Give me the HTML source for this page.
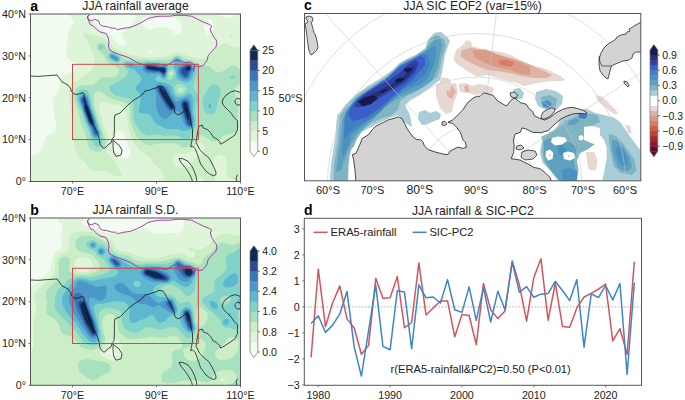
<!DOCTYPE html>
<html><head><meta charset="utf-8"><style>
html,body{margin:0;padding:0;background:#fff;overflow:hidden;width:685px;height:400px;}
svg{display:block;}
text{font-family:"Liberation Sans", sans-serif;}
</style></head><body>
<svg width="685" height="400" viewBox="0 0 685 400">
<rect width="685" height="400" fill="#fff"/>
<svg x="30.5" y="14.0" width="210.0" height="167.5" viewBox="0 0 210 167.5" preserveAspectRatio="none" overflow="hidden"><rect x="0" y="0" width="210" height="167.5" fill="#f2fbef"/>
<path fill="#dff5da" fill-rule="evenodd" d="M88.5,116.2 90.5,116.2 92.5,118.2 94.2,121.5 96.8,129.5 99.8,135.8 100.2,137.5 99.8,140.2 98.2,143.2 96.8,144.5 95.2,145.2 92.5,144.2 86.2,139.2 83.2,136.2 82.5,134.5 82.5,127.8 83.5,121.8 85.5,118.2ZM118.8,37.5 121.2,36.8 122.5,37.2 123.2,38.2 121.8,38.8 119.2,38.5ZM178.2,5.2 179.8,5.2 181.8,6.8 183.2,11.2 182.8,17.5 181.5,19.8 180.2,20.8 177.2,20.5 175.2,18.5 173.8,14.8 174.2,8.8 176.5,5.8ZM37.5,0.2 42.8,5.8 43.2,8.2 41.8,11.2 39.2,15.2 37.5,19.5 36.8,26.2 36.8,31.8 36.2,34.5 36.2,41.5 37.2,44.2 39.5,46.8 41.8,48.2 46.2,49.2 47.2,50.2 47.2,51.8 45.8,54.2 42.5,57.2 39.2,58.8 35.8,59.8 31.8,62.5 30.5,65.2 29.2,73.8 22.5,84.5 22.2,90.2 23.2,94.8 23.5,101.2 25.8,110.8 25.5,114.8 24.5,116.8 22.8,118.5 17.8,121.2 15.2,123.5 13.5,126.8 11.8,134.2 10.2,136.8 7.5,139.2 0.2,143.5 0.2,167.2 209.8,167.2 209.8,0.2 203.5,0.2 203.5,1.8 201.8,3.5 198.5,3.5 189.2,1.8 187.5,1.2 186.5,0.2 141.8,0.2 144.5,3.2 148.8,6.8 150.8,10.8 151.2,12.5 150.8,17.2 150.2,18.8 148.2,20.8 146.2,20.8 144.8,20.2 139.5,14.8 135.5,13.2 130.2,13.2 123.8,14.8 119.8,15.2 115.2,14.2 112.5,12.2 110.5,8.5 110.5,5.8 112.2,3.8 114.2,3.2 121.2,3.2 121.5,3.5 126.2,3.2 129.8,1.5 130.8,0.2 105.2,0.2 104.5,4.5 101.5,10.5 98.8,13.5 93.8,16.8 91.2,19.8 91.2,21.8 95.5,28.5 95.5,30.5 93.2,31.8 90.2,31.5 87.2,30.2 84.2,27.2 81.5,22.8 79.2,20.5 70.2,15.2 65.2,10.2 61.5,5.5 59.8,2.5 59.8,0.2Z"/>
<path fill="#cbeec6" fill-rule="evenodd" d="M173.2,130.8 174.2,133.2 174.2,136.5 173.5,138.2 170.8,140.8 165.5,143.5 163.5,145.5 161.2,150.2 158.8,152.5 155.5,153.8 152.8,154.2 148.5,153.8 145.8,152.8 142.8,150.2 141.8,148.2 141.5,144.8 142.5,142.5 143.8,141.2 147.2,139.8 155.5,139.8 158.5,139.2 161.2,137.2 164.5,132.2 167.8,129.2 170.5,128.8ZM200.5,20.8 199.5,21.5 199.2,23.5 200.2,24.8 201.2,24.8 202.2,23.8 202.5,22.5 201.8,21.2ZM52.8,20.8 53.2,22.2 56.8,26.5 62.2,38.8 64.2,45.2 64.2,50.2 62.2,54.2 57.8,58.8 50.8,63.8 43.8,67.8 41.2,70.5 39.8,73.2 38.8,76.8 38.8,84.2 39.8,88.8 41.8,106.5 41.8,111.5 42.2,111.8 41.8,124.2 45.8,138.8 47.5,141.8 54.2,148.2 59.2,155.2 62.5,156.8 75.2,157.2 78.5,158.5 84.2,161.8 86.5,162.5 89.8,162.2 91.2,160.8 91.2,158.8 85.2,148.2 82.8,145.5 77.5,140.8 76.8,139.5 76.5,137.2 78.2,130.2 78.2,124.8 76.5,119.2 74.8,115.8 72.5,109.2 71.5,104.5 69.8,100.2 68.5,93.8 69.2,89.8 70.8,88.2 73.2,87.8 82.5,90.5 90.2,91.5 92.2,92.2 94.8,94.5 95.5,95.5 96.5,99.5 96.5,103.5 97.5,111.5 100.5,122.2 102.8,127.2 109.8,136.5 112.2,138.8 117.8,141.8 120.5,144.8 122.8,149.5 131.2,156.5 132.5,158.8 133.2,161.2 133.2,164.2 132.2,167.2 162.5,167.2 166.8,162.8 169.5,162.8 170.8,163.5 172.8,165.8 173.2,167.2 184.8,167.2 184.5,162.5 182.5,155.5 182.2,148.8 183.8,144.2 185.8,142.2 188.8,140.8 190.8,140.8 192.5,141.5 194.2,142.8 195.5,145.2 196.2,148.2 195.8,158.2 197.2,161.8 199.5,164.2 203.2,166.2 203.8,167.2 209.8,167.2 209.8,31.8 205.8,33.5 203.2,33.5 200.8,32.5 196.8,29.8 194.2,29.8 190.5,30.8 185.5,33.8 178.5,42.2 175.2,44.2 171.5,45.2 166.5,44.8 147.5,38.5 144.2,38.8 138.2,41.5 131.8,43.2 124.5,43.5 124.2,43.8 116.2,43.8 98.8,40.8 86.5,35.5 82.8,33.5 75.5,25.5 71.2,23.2 57.5,19.5 54.5,19.5Z"/>
<path fill="#a8e1bf" fill-rule="evenodd" d="M151.8,162.8 151.8,163.5 152.5,163.8 153.8,163.8 154.5,163.2 153.8,162.5ZM148.8,73.5 150.8,73.5 152.2,74.8 152.2,76.5 150.8,77.8 149.2,77.8 147.8,76.5 147.8,74.5ZM140.5,57.5 141.8,57.8 142.5,58.8 142.5,60.2 141.2,61.5 139.8,61.5 138.8,60.5 139.2,58.5ZM43.5,78.5 43.2,81.2 44.2,86.8 47.5,96.5 50.5,108.8 55.2,121.2 57.8,131.8 60.2,135.2 63.5,137.2 68.5,137.5 70.2,136.8 73.2,134.2 74.5,131.8 75.2,129.5 74.8,124.8 69.2,110.2 67.8,104.8 64.8,96.2 63.5,90.2 63.5,86.8 63.2,86.5 63.5,81.8 64.5,79.2 66.2,77.5 67.2,77.2 69.8,77.5 72.5,78.8 77.2,82.5 82.5,85.5 94.2,88.2 95.5,88.8 98.2,91.5 99.5,95.5 99.5,101.2 100.2,107.5 102.8,115.5 105.8,121.8 107.5,124.2 114.5,130.2 117.2,131.2 120.2,131.2 127.5,129.5 143.8,129.2 147.2,130.5 151.5,133.2 155.5,133.5 159.2,131.5 166.2,122.8 168.5,121.2 171.8,121.5 182.2,127.5 185.2,127.8 187.5,126.8 193.2,121.8 197.2,120.5 204.2,119.2 206.5,117.2 207.2,115.5 206.8,101.8 207.8,97.2 207.8,89.5 206.8,85.2 204.2,79.2 204.2,75.5 205.2,73.5 209.2,69.5 209.8,69.5 209.8,56.2 206.2,52.5 204.2,51.5 201.8,51.5 199.8,52.2 191.8,57.5 189.8,58.2 186.8,58.2 183.8,56.8 180.5,53.8 177.8,52.2 169.8,50.5 161.8,46.5 152.8,44.2 150.5,42.5 147.5,41.2 144.5,41.5 139.8,44.8 136.5,45.8 119.2,46.2 118.8,45.8 95.2,45.2 93.2,44.5 90.5,41.2 83.5,37.2 77.8,35.8 76.2,34.2 74.8,31.2 73.2,29.5 70.2,28.5 67.5,29.5 66.2,31.5 66.2,33.8 66.8,35.5 68.2,37.2 71.5,39.2 72.8,40.5 75.8,46.2 78.8,49.5 81.2,51.2 84.8,52.5 87.5,54.2 88.2,55.5 88.2,57.8 87.2,60.2 84.8,62.5 82.5,63.5 77.8,63.5 75.2,62.8 72.2,63.2 69.2,64.8 63.8,69.8 60.8,71.2 53.2,71.2 49.8,71.8 45.5,74.5Z"/>
<path fill="#80d2cb" fill-rule="evenodd" d="M50.5,75.5 48.5,76.5 46.5,79.5 46.2,82.8 46.8,87.2 51.2,98.2 54.2,107.8 57.8,116.2 60.2,123.5 62.8,129.2 65.2,132.2 67.5,132.8 69.2,132.5 71.5,130.5 72.2,128.5 71.2,123.8 71.2,120.5 70.5,117.5 68.5,113.2 62.2,93.8 59.8,82.2 57.8,77.5 56.8,76.5 53.5,75.2ZM185.5,70.8 181.8,70.8 180.5,71.5 177.8,74.5 172.2,84.2 171.8,88.2 173.5,95.8 174.5,97.5 176.8,99.8 178.2,100.5 181.8,100.5 183.5,99.5 184.8,97.8 186.5,92.5 187.2,87.8 190.2,80.5 189.8,75.2 188.8,73.2 187.5,71.8ZM146.8,69.8 151.2,70.2 153.5,71.2 155.5,72.8 156.2,74.2 155.8,76.5 152.8,79.8 149.2,80.8 147.2,80.2 145.8,78.8 144.5,75.8 144.5,72.5 144.8,71.5ZM204.8,62.2 203.8,61.2 202.2,61.2 200.8,61.8 199.5,63.8 200.5,64.8 202.5,64.8 203.5,64.5 204.8,63.2ZM141.5,55.5 143.5,57.2 144.2,58.5 143.8,61.5 141.5,64.8 139.8,65.8 137.8,65.8 137.2,65.2 137.5,58.5 139.2,55.8ZM161.5,48.5 158.5,47.5 152.8,46.8 148.8,43.2 147.2,42.5 145.8,42.5 143.8,43.5 142.8,44.5 141.5,47.2 140.5,48.2 138.2,49.2 135.2,49.2 126.5,47.8 120.5,47.8 120.2,47.5 115.8,47.5 113.2,48.2 104.2,48.2 102.2,47.5 94.8,47.2 92.8,48.5 92.5,51.2 93.5,52.8 95.8,54.5 96.8,55.8 97.2,58.5 96.5,60.8 94.8,62.8 90.8,65.8 80.8,70.8 79.2,72.8 79.2,75.5 80.5,77.8 82.8,80.2 85.8,81.8 89.2,82.8 97.8,84.2 101.2,86.2 102.8,89.8 102.8,104.2 104.2,108.8 109.2,116.5 112.5,119.8 117.2,121.5 121.5,121.2 123.5,120.5 127.8,120.5 133.2,121.8 144.8,121.5 147.8,122.2 153.5,125.5 156.5,125.8 157.8,125.2 159.8,123.2 165.5,112.8 165.8,103.8 165.2,99.8 165.2,94.2 165.8,90.8 167.8,85.5 167.5,81.2 163.5,74.8 162.8,72.8 163.2,69.8 166.2,60.2 166.5,54.8 164.2,50.5ZM78.2,39.8 77.5,41.5 77.8,43.5 79.8,45.8 85.2,48.8 87.8,48.8 89.8,47.2 90.2,44.2 89.5,42.8 87.5,41.2 82.5,38.5 80.2,38.5ZM69.2,31.2 68.5,32.2 68.8,34.5 69.8,35.2 71.8,35.2 72.8,33.8 72.5,31.8 71.2,30.8Z"/>
<path fill="#5db7d0" fill-rule="evenodd" d="M179.2,89.8 178.5,90.2 177.8,92.2 178.8,93.8 179.8,93.8 180.5,92.8 180.5,90.8 180.2,90.2ZM51.2,78.8 49.2,80.5 48.2,83.8 48.2,85.8 49.5,90.2 50.8,92.8 55.8,107.5 59.5,115.5 61.2,121.2 63.2,123.8 64.8,124.8 66.8,125.2 68.5,123.8 69.2,122.5 69.5,118.5 67.2,112.8 64.8,104.8 60.8,93.8 58.5,84.2 57.2,81.5 55.2,79.5 52.5,78.5ZM95.8,74.2 95.5,73.8 94.5,74.2 95.2,74.5ZM94.2,49.5 94.2,50.8 95.5,52.2 100.2,54.5 103.8,55.5 105.5,57.8 108.8,60.8 110.8,64.5 109.8,68.2 105.5,72.8 104.8,74.2 105.2,75.2 108.8,79.5 110.2,82.5 110.2,86.5 108.2,95.5 108.5,98.2 109.5,99.5 116.2,99.2 118.5,100.2 121.2,102.8 123.8,107.8 126.5,110.5 135.5,114.8 137.2,115.2 147.2,114.8 151.8,116.5 155.2,116.8 159.8,115.5 162.8,113.2 163.8,110.8 163.8,106.8 162.5,97.2 162.8,84.2 161.5,81.2 159.8,79.8 157.5,79.8 151.5,82.8 147.2,83.2 145.8,82.5 143.2,79.5 141.5,73.8 139.5,70.8 132.8,68.5 126.8,67.5 125.5,66.2 125.2,65.2 125.8,63.2 127.2,61.8 128.2,61.5 131.8,64.8 133.5,65.2 135.2,64.2 135.8,63.2 136.2,60.2 137.8,54.8 137.5,53.2 136.2,51.8 134.2,50.8 121.5,48.8 115.5,48.8 111.8,50.5 108.2,51.5 105.2,51.5 103.5,49.8 101.5,48.8 95.5,48.5ZM144.8,44.2 143.5,46.8 143.8,51.2 143.2,52.8 145.2,56.8 146.2,64.5 147.5,65.8 154.5,68.5 158.5,68.2 160.8,65.8 162.2,63.2 163.8,55.8 163.8,54.2 162.8,51.5 161.2,49.8 158.8,48.8 155.2,48.8 154.8,49.2 151.2,48.8 150.2,47.8 149.2,45.2 147.5,43.8ZM79.2,40.8 78.8,42.2 79.5,43.8 82.8,46.2 85.5,47.5 87.2,47.5 88.8,46.2 88.5,43.5 84.2,40.5 81.2,39.5Z"/>
<path fill="#4a97c8" fill-rule="evenodd" d="M52.2,81.2 50.5,82.2 49.5,84.2 49.8,87.8 51.2,90.5 52.8,96.5 57.5,109.2 60.2,113.8 62.2,120.2 63.5,122.2 64.8,122.8 66.5,122.8 67.8,121.8 68.5,120.5 68.5,118.5 66.5,113.8 64.8,107.8 59.8,93.8 57.2,84.2 54.8,81.5ZM126.8,70.5 125.2,72.2 124.5,74.2 124.5,75.8 125.8,80.2 125.2,91.2 127.5,98.5 129.2,101.8 132.2,104.5 135.8,104.8 137.2,104.2 140.8,100.2 146.5,97.2 147.8,97.2 150.2,101.2 152.2,106.5 155.2,112.2 158.2,113.8 160.8,113.2 162.5,111.2 162.5,106.5 160.8,96.2 160.5,89.5 159.2,85.2 157.5,83.8 154.5,83.8 150.5,85.5 146.8,88.2 143.2,84.8 140.5,80.2 138.8,75.5 136.5,72.8 130.5,69.8 128.5,69.8ZM97.5,50.5 98.2,51.5 100.2,52.5 101.5,52.5 102.2,51.8 101.8,50.5 101.2,50.2 97.8,50.2ZM159.8,50.2 156.2,49.8 154.8,50.5 149.5,51.5 147.2,53.5 146.8,57.5 147.8,61.2 148.8,62.8 151.2,64.8 153.5,65.8 156.8,65.8 158.2,65.2 159.8,63.2 160.5,60.2 162.5,55.2 162.5,53.5 161.8,51.8ZM112.2,53.2 112.2,55.5 112.8,56.8 115.2,58.8 118.2,59.8 128.8,59.5 130.8,61.2 132.5,63.5 134.5,63.2 136.5,57.2 136.5,54.2 135.2,52.5 133.5,51.8 129.8,51.5 124.2,50.2 117.2,49.5 114.8,50.2 113.5,51.2ZM145.5,45.5 145.5,47.2 146.2,47.8 147.5,47.8 147.8,45.8 147.2,45.2ZM80.2,41.5 80.5,43.2 85.2,46.2 87.5,45.8 87.8,45.2 87.5,44.2 82.5,40.8 80.8,40.8Z"/>
<path fill="#3874ba" fill-rule="evenodd" d="M153.8,85.8 152.2,86.5 150.2,89.2 150.5,93.5 151.8,98.5 156.2,110.5 157.2,111.8 159.5,112.5 161.5,110.8 161.5,106.8 158.8,89.5 158.2,87.5 156.8,86.2ZM52.8,82.5 51.5,83.2 50.5,84.8 50.5,86.5 52.5,91.5 52.8,94.2 58.2,108.8 61.5,114.2 62.8,118.8 64.5,121.2 65.8,121.5 67.2,120.5 67.5,118.8 64.5,111.2 63.5,106.2 57.8,90.5 56.5,85.2 55.2,83.2ZM127.8,71.5 126.8,72.5 126.2,74.2 126.8,76.8 130.2,83.8 135.5,93.2 139.2,96.8 143.2,96.5 144.2,95.8 145.2,94.2 145.2,91.5 140.2,83.5 137.2,77.2 135.5,74.8 132.2,71.8 130.8,71.2ZM159.5,50.8 158.2,50.5 156.2,50.8 150.2,53.5 148.8,55.2 148.8,57.8 149.8,60.2 152.8,63.5 154.2,64.2 156.2,64.2 158.2,62.5 159.2,58.8 161.2,55.8 161.5,53.2 160.8,51.8ZM114.2,52.5 114.2,54.8 115.5,56.5 118.2,57.5 122.2,58.2 128.2,58.2 130.8,59.5 133.2,62.2 134.2,61.5 135.8,57.5 135.5,53.8 132.8,52.5 129.8,52.5 126.5,51.5 120.2,50.5 116.5,50.5 115.2,51.2Z"/>
<path fill="#2a4e93" fill-rule="evenodd" d="M153.5,87.2 152.2,88.2 151.5,89.5 151.8,92.8 155.5,105.2 157.8,110.5 159.2,111.2 160.5,109.8 160.5,107.5 157.8,90.2 157.2,88.5 156.2,87.5ZM52.8,83.8 51.8,84.8 51.5,86.2 53.2,90.2 53.5,94.2 58.2,107.2 59.5,109.8 62.8,113.2 63.8,115.5 64.5,118.8 65.5,119.5 65.8,118.2 63.5,113.2 62.8,106.5 58.2,92.8 56.8,90.5 55.2,84.8 53.8,83.8ZM128.5,72.5 127.5,73.8 127.8,75.8 130.2,80.8 135.2,89.2 139.2,94.8 140.2,95.5 142.8,95.2 143.8,93.8 143.8,91.8 138.2,82.5 136.5,78.8 134.5,75.8 130.5,72.2ZM159.2,51.5 156.8,51.5 151.8,54.5 150.8,55.8 150.8,57.5 151.8,59.5 154.5,62.2 155.8,62.2 156.8,61.2 157.5,58.5 160.5,55.2 160.5,52.8ZM115.2,52.8 115.8,55.2 117.2,55.8 123.8,57.2 128.2,57.2 130.5,58.2 132.8,60.2 133.5,60.2 134.5,59.2 135.5,56.5 135.2,54.5 132.8,53.2 128.5,53.2 126.8,52.5 118.8,51.2 117.2,51.2 115.8,51.8Z"/>
<path fill="#0f2a50" fill-rule="evenodd" d="M54.8,90.5 54.2,91.8 54.5,95.5 59.5,108.5 60.8,109.8 61.8,109.8 62.5,108.5 57.5,93.2 56.8,91.8 55.5,90.5ZM154.5,88.2 153.5,88.5 152.8,89.5 153.2,93.5 156.5,103.8 157.5,105.8 158.5,106.5 158.8,105.5 158.5,100.5 156.8,90.8 156.2,89.2ZM129.2,73.8 129.2,75.8 130.2,78.2 134.8,86.2 139.8,93.5 140.8,94.2 142.2,93.8 142.5,92.2 134.8,78.5 131.2,74.2ZM159.5,52.8 158.5,52.2 156.8,52.5 155.2,54.5 155.2,56.2 157.2,56.5 158.8,55.8 159.8,54.2ZM116.5,53.2 117.2,54.5 122.5,55.8 128.8,56.2 132.5,58.8 133.5,58.8 134.8,56.8 134.8,55.2 133.2,53.8 127.8,54.2 125.2,53.2 117.5,52.2Z"/>
<path fill="#0f2a50" fill-rule="evenodd" d="M55.5,92.5 54.8,93.5 55.2,95.2 59.8,107.5 60.8,108.5 61.2,106.5 56.5,93.2ZM130.8,55.2 130.8,56.2 131.8,57.5 132.5,57.8 133.8,57.5 134.2,56.8 133.8,54.8 132.2,54.5ZM158.2,53.8 157.5,54.2 157.8,54.5Z"/><polyline points="-0.5,62.0 7.5,62.4 26.5,61.0 29.5,65.0 31.5,68.0 37.5,71.0 40.5,75.0 40.5,77.0 42.5,79.0 44.5,80.4 48.5,80.0 52.5,78.4 53.5,80.0 53.9,85.0 55.5,92.0 57.5,98.0 60.5,106.0 63.5,112.0 66.5,118.0 68.5,124.0 69.5,130.0 71.5,133.0 73.5,134.4 75.5,133.0 78.5,130.0 80.5,129.0 81.5,125.0 83.5,123.0 83.9,116.0 83.9,104.0 84.5,101.0 89.5,99.0 93.5,95.0 98.5,90.0 103.5,86.0 108.5,83.0 112.5,80.0 114.5,77.0 119.5,76.0 121.5,75.0 125.5,74.0 128.5,72.4 132.5,73.0 134.5,76.0 136.5,80.0 139.5,85.0 141.5,89.0 143.5,94.0 144.5,99.0 147.5,101.0 151.5,99.0 155.5,95.0 157.5,96.0 159.5,101.0 160.2,106.8 162.0,115.8 162.0,123.0 161.1,128.4 160.2,132.9 162.0,132.0 164.7,134.7 166.5,139.2 168.3,144.6 170.1,150.0 172.8,153.6 175.5,157.2 179.1,159.9 182.7,161.7 185.4,160.8 185.4,158.1 183.6,153.6 180.9,148.2 178.2,143.7 173.7,140.1 169.2,135.6 165.5,128.4 166.5,122.0 168.3,112.2 171.9,111.3 172.8,114.0 177.3,115.8 180.0,118.5 182.7,123.0 186.3,124.8 189.0,127.5 189.9,130.2 193.5,128.4 198.9,124.8 204.3,121.2 207.0,115.8 207.0,106.8 203.7,103.7 200.7,99.2 197.0,95.5 193.2,91.7 191.7,88.7 192.5,85.0 195.5,81.2 200.0,78.2 204.5,76.7 209.0,78.2 210.5,79.0" fill="none" stroke="#111" stroke-width="0.75" stroke-linejoin="round"/>
<polyline points="82.5,126.0 84.5,128.0 88.5,131.0 91.5,136.0 90.5,141.0 85.5,142.4 83.1,138.0 82.5,132.0 82.5,126.0" fill="none" stroke="#111" stroke-width="0.75" stroke-linejoin="round"/>
<polyline points="148.5,144.6 152.1,144.6 157.5,147.3 161.1,151.8 163.8,157.2 165.6,162.6 166.5,168.0 162.0,168.0 161.1,164.4 158.4,159.0 154.8,153.6 150.3,148.2 148.5,144.6" fill="none" stroke="#111" stroke-width="0.75" stroke-linejoin="round"/>
<polyline points="204.5,86.5 206.7,84.2 209.7,85.0 210.5,88.0 209.7,91.0 206.7,91.0 204.5,89.0 204.5,86.5" fill="none" stroke="#111" stroke-width="0.75" stroke-linejoin="round"/>
<polyline points="207.0,160.8 205.5,164.0 206.5,168.0" fill="none" stroke="#111" stroke-width="0.75"/>
<polyline points="59.0,0.8 56.8,3.0 58.2,6.0 61.2,6.8 64.2,5.2 68.0,6.8 69.5,10.5 71.8,12.0 77.0,12.8 81.5,14.2 85.2,14.2 86.8,15.8 93.5,14.2 99.5,13.5 105.5,11.2 111.5,8.2 117.5,4.5 123.5,3.0 129.5,2.2 138.5,2.2 147.5,1.2 155.0,1.5 161.0,2.2 167.0,5.2 173.0,8.2 179.0,10.5 181.2,12.0 179.8,15.0 181.2,19.5 183.5,23.2 185.8,26.2 186.5,30.0 185.0,33.8 182.8,36.0 179.8,39.0 177.5,42.0 176.8,45.8 174.5,49.5 172.2,51.8 169.2,52.5 167.0,52.5 164.8,51.8 163.2,55.5 163.0,57.5 164.0,51.0 159.5,48.0 155.0,48.8 150.5,47.2 146.0,45.8 141.5,48.0 135.5,51.8 129.5,50.2 122.0,50.2 114.5,51.0 108.5,49.5 105.5,48.0 99.5,44.2 93.5,42.0 89.0,40.5 83.0,38.2 79.2,36.0 77.8,32.2 78.5,28.5 77.8,24.0 75.5,19.5 69.5,18.0 65.8,15.0 62.8,12.0 60.5,11.2 59.0,9.0 57.5,5.0 57.0,2.5 59.0,0.8" fill="none" stroke="#9b30a8" stroke-width="0.9" stroke-linejoin="round"/>
<rect x="42.0" y="50.3" width="125.8" height="75.3" fill="none" stroke="#d23a3a" stroke-width="0.9"/></svg><rect x="30.5" y="14.0" width="210.0" height="167.5" fill="none" stroke="#555" stroke-width="1"/><line x1="28.5" y1="14.0" x2="30.5" y2="14.0" stroke="#555" stroke-width="0.8"/><text x="26.0" y="17.8" font-size="10.7" text-anchor="end" font-weight="normal" fill="#222" >40°N</text><line x1="28.5" y1="55.9" x2="30.5" y2="55.9" stroke="#555" stroke-width="0.8"/><text x="26.0" y="59.7" font-size="10.7" text-anchor="end" font-weight="normal" fill="#222" >30°N</text><line x1="28.5" y1="97.8" x2="30.5" y2="97.8" stroke="#555" stroke-width="0.8"/><text x="26.0" y="101.5" font-size="10.7" text-anchor="end" font-weight="normal" fill="#222" >20°N</text><line x1="28.5" y1="139.6" x2="30.5" y2="139.6" stroke="#555" stroke-width="0.8"/><text x="26.0" y="143.4" font-size="10.7" text-anchor="end" font-weight="normal" fill="#222" >10°N</text><line x1="28.5" y1="181.5" x2="30.5" y2="181.5" stroke="#555" stroke-width="0.8"/><text x="26.0" y="185.3" font-size="10.7" text-anchor="end" font-weight="normal" fill="#222" >0°</text><line x1="72.5" y1="181.5" x2="72.5" y2="183.5" stroke="#555" stroke-width="0.8"/><text x="72.5" y="194.7" font-size="10.7" text-anchor="middle" font-weight="normal" fill="#222" >70°E</text><line x1="156.5" y1="181.5" x2="156.5" y2="183.5" stroke="#555" stroke-width="0.8"/><text x="156.5" y="194.7" font-size="10.7" text-anchor="middle" font-weight="normal" fill="#222" >90°E</text><line x1="240.5" y1="181.5" x2="240.5" y2="183.5" stroke="#555" stroke-width="0.8"/><text x="240.5" y="194.7" font-size="10.7" text-anchor="middle" font-weight="normal" fill="#222" >110°E</text><text x="135.5" y="10.2" font-size="12.2" text-anchor="middle" font-weight="normal" fill="#222" >JJA rainfall average</text><text x="30.2" y="10.5" font-size="14" text-anchor="start" font-weight="bold" fill="#000" >a</text><svg x="30.5" y="218.0" width="210.0" height="167.3" viewBox="0 0 210 167.5" preserveAspectRatio="none" overflow="hidden"><rect x="0" y="0" width="210" height="167.5" fill="#f2fbef"/>
<path fill="#dff5da" fill-rule="evenodd" d="M81.5,130.5 83.5,130.5 84.8,132.2 84.8,134.8 82.8,136.8 80.2,136.8 78.2,135.2 78.2,133.5 78.8,132.5ZM51.5,47.5 52.2,46.8 53.2,47.2 52.8,48.2 51.8,48.2ZM26.8,0.2 27.8,2.5 31.2,6.5 31.8,8.5 31.5,12.2 30.5,15.8 30.5,20.8 31.5,24.2 31.5,27.8 29.2,30.8 25.5,33.2 23.5,35.5 21.8,39.8 20.5,49.8 18.2,54.2 7.2,65.2 2.8,67.5 0.2,68.2 0.2,167.2 209.8,167.2 209.8,0.2 152.5,0.2 153.2,2.2 153.2,8.8 151.8,12.2 150.2,13.8 146.8,15.2 133.8,15.2 129.5,15.8 124.5,15.5 121.5,14.5 114.5,10.2 112.2,10.2 106.8,12.5 100.2,14.2 94.5,14.5 86.8,15.8 78.8,15.5 65.5,11.2 58.5,9.5 52.8,6.8 51.5,5.2 51.8,3.8 56.5,0.2Z"/>
<path fill="#cbeec6" fill-rule="evenodd" d="M194.8,161.2 194.8,161.8 192.8,163.5 190.8,163.8 189.8,163.2 189.8,161.8 191.2,160.5 193.5,160.2ZM82.8,121.2 85.2,121.5 87.5,122.8 89.8,125.2 91.5,129.8 91.5,133.8 90.5,138.5 89.5,140.5 87.5,142.5 85.8,143.2 81.8,142.8 74.5,140.2 70.8,138.2 69.5,136.5 69.5,134.8 70.2,133.5 77.5,126.2 81.2,121.8ZM43.8,44.5 44.8,42.2 47.2,39.8 49.2,39.2 54.2,39.2 56.5,39.8 58.8,41.2 61.2,43.5 62.2,45.5 62.5,47.5 61.8,49.8 58.5,52.8 55.8,53.8 50.5,54.2 47.2,53.5 44.2,51.2 43.5,49.8ZM40.5,16.5 39.2,18.5 38.5,20.8 38.8,28.8 38.2,31.2 36.2,33.2 28.8,36.5 25.8,40.2 24.8,43.5 24.2,53.2 22.8,56.8 20.5,59.8 11.8,68.2 7.8,71.2 4.5,74.5 3.8,75.8 3.5,79.5 5.5,86.8 5.8,92.5 2.8,103.5 3.5,126.2 2.2,131.5 0.8,134.2 0.2,134.5 0.2,167.2 209.8,167.2 209.8,17.8 204.8,17.8 197.2,15.5 194.5,15.2 191.5,15.5 187.5,17.5 177.8,27.5 173.2,30.2 168.8,31.5 165.2,31.5 162.2,29.8 159.5,29.5 158.2,30.5 158.2,31.8 160.2,32.8 161.8,32.8 163.5,33.5 164.5,34.5 164.8,35.8 164.2,38.2 161.8,39.8 157.8,39.2 154.5,36.8 152.2,35.8 144.2,35.5 137.8,36.5 131.8,38.8 127.8,39.8 118.2,40.2 109.2,38.8 99.8,34.8 93.5,33.8 88.8,32.5 84.8,29.2 81.8,24.2 80.2,22.5 72.2,18.2 63.8,14.8 57.2,13.5 48.8,13.2 44.2,14.2Z"/>
<path fill="#a8e1bf" fill-rule="evenodd" d="M47.2,147.2 47.5,150.8 49.2,154.2 50.8,155.8 57.5,160.5 61.5,162.5 64.8,162.2 70.8,158.2 77.5,154.8 79.8,152.5 80.5,150.8 80.5,149.5 79.5,147.5 78.2,146.2 75.2,144.5 70.5,143.2 65.8,142.8 58.8,141.5 54.2,141.5 50.5,142.5 48.2,144.5ZM172.5,122.5 174.2,124.5 174.8,126.2 174.8,129.8 173.8,133.2 171.2,138.5 168.5,141.2 164.5,142.8 160.8,143.2 156.5,141.8 153.8,138.5 152.8,135.2 152.5,132.5 152.8,131.2 153.5,130.5 157.2,129.5 159.8,128.2 166.5,121.8 167.8,121.2 170.2,121.2ZM206.2,120.5 207.5,122.2 208.2,124.8 207.8,130.8 206.5,134.5 202.8,138.8 199.2,140.8 195.5,141.8 189.2,141.8 187.5,141.2 185.5,139.5 184.5,137.2 185.2,133.5 187.8,130.5 190.8,128.5 194.2,125.2 197.8,120.5 200.2,119.5 204.2,119.5ZM168.2,89.2 169.5,89.2 172.8,91.2 176.2,94.5 177.2,96.8 177.2,100.5 175.5,104.5 172.5,108.2 169.8,109.5 168.2,108.8 166.8,107.2 165.5,102.5 165.8,92.8 166.8,90.2ZM29.8,40.5 28.5,42.8 27.8,46.2 28.5,51.8 28.2,59.5 26.2,62.8 18.5,69.5 15.8,73.2 15.2,75.2 15.2,77.5 16.8,83.8 15.8,89.2 15.8,94.5 16.5,95.8 18.8,98.2 23.5,100.8 26.8,104.2 28.5,107.2 29.8,112.2 30.8,114.2 32.5,115.8 41.5,119.2 45.2,122.5 48.5,127.2 50.5,128.8 53.8,130.5 58.5,131.8 62.8,131.8 66.8,130.5 69.2,129.2 73.2,125.5 74.5,122.5 74.5,118.5 72.5,112.8 71.8,108.8 72.2,101.5 72.8,99.5 74.5,97.5 77.8,96.2 80.2,96.2 83.2,97.2 85.5,99.5 86.2,100.8 87.2,105.2 87.5,111.2 89.2,114.8 92.8,118.2 97.2,120.8 100.2,121.5 104.2,121.5 111.8,120.5 119.5,118.8 123.5,118.8 129.8,119.8 135.2,119.8 141.2,117.8 145.5,117.8 148.8,120.2 151.5,125.5 151.8,129.8 150.8,130.8 145.8,131.8 143.2,133.2 141.8,134.5 141.2,135.8 141.8,147.2 139.8,150.2 133.2,154.2 131.5,156.5 130.8,158.8 130.8,161.5 131.5,163.2 132.8,164.5 135.8,165.5 141.8,165.5 151.2,163.2 161.2,162.2 166.5,162.5 173.2,164.5 177.2,164.5 179.5,163.5 180.5,162.5 183.5,157.2 186.2,154.5 188.2,153.5 192.2,152.5 199.2,152.5 203.2,153.8 205.2,155.8 205.8,157.2 205.8,161.2 203.5,164.2 197.5,167.2 209.8,167.2 209.8,23.8 203.5,26.8 200.2,26.8 193.2,24.5 190.5,24.8 188.5,25.8 185.8,28.2 183.2,31.8 179.8,35.2 177.2,36.8 173.8,40.2 171.2,45.8 170.2,46.8 167.8,46.8 165.2,45.5 156.2,42.8 148.8,39.5 144.8,39.5 135.2,42.5 128.2,43.5 110.2,43.5 106.8,42.8 97.2,37.8 88.8,36.2 84.2,34.2 81.2,31.2 79.2,27.8 75.8,24.5 69.5,21.2 64.8,19.2 61.2,18.2 53.5,17.8 49.5,18.8 46.2,21.2 44.8,24.8 45.5,29.5 46.2,30.8 48.2,32.8 50.5,33.8 59.2,35.8 62.5,37.8 65.8,41.2 69.8,47.5 69.8,50.2 67.8,52.5 63.5,54.8 57.8,56.5 53.5,56.8 53.2,56.5 45.8,56.5 42.2,55.8 39.5,53.8 38.5,51.2 39.2,45.5 39.2,42.5 38.5,40.5 37.2,39.2 36.2,38.8 32.5,38.8Z"/>
<path fill="#80d2cb" fill-rule="evenodd" d="M200.2,79.5 200.5,80.5 200.2,82.8 196.8,86.2 194.5,86.8 192.5,86.8 191.5,86.5 189.5,84.2 189.2,81.2 190.8,79.2 192.2,78.5 197.2,77.8 199.2,78.5ZM209.8,29.2 204.8,33.8 199.2,35.8 196.2,37.8 195.2,40.2 195.2,43.2 196.2,47.8 195.8,51.2 194.8,52.8 191.8,55.8 185.2,60.8 184.2,62.8 183.8,73.2 182.2,75.2 173.8,78.5 171.8,81.2 171.8,83.8 172.8,85.8 177.8,90.8 189.5,100.8 190.5,105.8 192.8,108.8 196.2,109.8 198.5,109.8 202.5,111.5 205.2,111.5 206.5,110.8 207.5,109.5 208.2,106.8 207.5,96.2 208.5,93.2 209.8,92.2ZM25.2,75.8 24.5,80.5 24.5,90.2 25.5,92.8 45.8,114.2 52.2,122.8 54.5,125.2 59.2,127.5 63.8,127.8 66.2,127.2 68.2,126.2 70.2,124.2 70.8,122.8 71.2,118.5 69.2,108.8 68.5,102.2 68.5,94.5 70.5,91.8 73.8,90.5 76.8,90.2 82.8,90.5 88.2,92.2 90.2,94.2 90.8,95.5 91.8,105.2 93.5,109.5 96.8,112.8 101.5,114.8 107.5,114.5 110.2,113.2 113.2,110.8 116.2,109.5 119.8,109.5 124.2,110.8 129.8,111.5 134.8,110.8 140.5,108.8 143.5,108.8 145.2,109.5 148.5,112.2 155.5,119.5 157.2,120.5 158.5,120.5 160.2,119.5 163.8,115.8 165.5,112.5 165.5,109.5 164.2,105.2 163.5,100.8 162.8,91.5 160.2,85.8 157.5,83.8 155.2,83.8 151.2,85.5 149.2,85.5 147.5,84.2 145.5,81.2 143.5,79.2 139.2,76.8 133.2,75.2 130.8,73.8 130.2,72.8 130.2,70.8 132.2,68.5 139.2,66.5 141.5,66.5 143.8,67.5 148.8,70.8 154.5,76.5 156.8,78.2 158.8,78.2 160.2,77.5 162.8,74.8 164.2,71.8 165.2,64.2 166.8,58.2 167.2,54.2 165.8,50.2 162.5,47.2 155.2,44.5 148.8,41.2 145.2,41.5 139.8,44.8 135.8,45.8 117.2,45.8 111.2,46.5 106.5,46.2 102.2,44.5 95.5,40.5 89.2,39.2 83.5,36.5 79.8,35.5 78.2,33.8 77.2,31.5 75.2,28.8 72.8,27.2 68.8,25.8 64.2,22.5 62.8,22.2 59.5,22.5 55.8,24.8 55.5,27.2 56.2,28.5 59.2,31.2 63.5,32.8 67.5,37.8 72.5,40.8 75.2,43.5 79.5,50.2 79.2,52.5 76.8,54.5 73.8,55.8 63.2,58.8 55.2,59.2 51.5,58.5 47.8,58.5 40.8,60.2 36.8,62.5 33.5,66.5 26.8,72.8Z"/>
<path fill="#5db7d0" fill-rule="evenodd" d="M196.5,100.8 194.5,101.2 193.2,102.2 192.5,103.5 192.5,105.5 193.2,106.5 194.5,107.2 195.8,107.2 197.2,106.5 198.2,105.2 198.5,103.8 198.2,102.2ZM197.5,95.2 197.8,96.8 199.8,97.8 200.5,97.2 200.5,95.5 199.2,94.5ZM155.2,89.2 152.5,90.5 150.2,93.8 149.5,98.5 149.8,103.2 151.5,107.5 154.8,112.2 156.5,113.8 158.8,114.8 160.2,114.8 162.5,113.8 163.5,112.8 164.2,111.2 164.2,109.2 162.5,102.2 161.8,95.5 160.5,91.5 158.8,89.8 157.5,89.2ZM179.2,83.2 178.5,84.5 180.5,88.8 182.8,90.8 183.8,91.2 186.2,90.8 187.2,89.5 187.2,87.2 186.5,85.8 183.5,83.5 181.2,82.8ZM209.8,78.2 208.8,78.8 207.5,81.8 207.5,85.2 209.2,86.8 209.8,86.8ZM104.8,62.8 108.5,63.2 110.2,65.2 109.8,67.2 107.5,69.2 104.8,68.8 102.8,66.5 102.8,64.5ZM206.2,55.8 204.8,55.2 202.8,55.5 199.5,57.2 196.8,59.2 194.2,61.8 192.5,65.2 192.8,68.2 194.5,69.5 199.2,69.5 203.5,68.2 205.5,66.8 207.2,64.5 207.8,61.5 207.5,58.5ZM163.8,50.2 161.8,48.5 153.8,45.5 151.2,43.5 148.2,42.2 145.8,42.5 143.8,44.2 142.5,46.8 140.5,48.8 138.5,49.5 135.5,49.5 131.2,48.5 122.8,48.2 122.5,47.8 115.2,47.8 109.5,49.5 104.2,49.5 99.8,47.8 83.8,38.2 82.2,37.8 80.2,38.2 78.2,39.8 77.8,40.8 78.2,43.5 81.8,48.2 84.8,51.2 87.5,52.8 87.8,54.5 87.2,55.8 84.8,57.8 81.5,59.2 72.5,60.5 65.5,62.5 60.2,62.5 51.5,60.5 48.2,60.5 44.8,61.8 41.8,64.5 35.5,72.5 33.2,76.2 31.5,80.5 31.8,87.2 36.2,94.8 43.8,103.5 55.5,120.2 58.5,123.2 60.2,124.2 64.5,124.5 66.2,123.8 67.5,122.5 68.5,120.2 68.5,113.5 66.5,103.2 63.2,91.8 63.2,89.5 63.8,87.8 64.8,86.8 67.8,86.2 71.2,86.2 79.8,83.8 82.8,83.8 86.2,83.2 93.2,83.5 95.2,84.5 97.5,86.8 99.2,91.5 98.8,101.8 99.2,103.2 100.8,104.8 103.2,105.2 105.2,104.5 108.2,102.8 114.2,100.8 120.5,97.2 122.8,97.8 124.2,99.2 125.8,102.8 127.2,104.2 128.8,104.8 130.8,104.8 132.8,104.2 134.8,102.8 138.8,98.5 143.2,97.2 145.5,95.8 147.2,93.2 146.8,90.5 143.5,82.5 141.8,80.8 138.8,79.5 129.2,78.8 126.2,77.8 124.2,76.2 122.5,73.5 122.5,71.5 123.2,70.2 124.8,68.5 128.8,66.2 132.5,65.5 136.5,65.5 139.2,64.5 142.2,62.5 144.5,63.2 147.5,65.5 152.8,68.5 154.8,69.2 157.5,69.2 160.5,66.2 164.8,57.5 165.2,52.8ZM68.2,30.2 66.8,32.5 67.5,35.2 69.2,36.8 70.2,37.2 72.2,37.2 73.5,36.5 74.5,35.2 74.5,32.5 73.5,30.8 70.5,29.5ZM60.5,24.5 59.2,26.5 59.8,28.8 61.8,30.2 64.8,29.8 65.8,28.8 65.8,26.5 65.2,25.2 63.8,24.2Z"/>
<path fill="#4a97c8" fill-rule="evenodd" d="M155.5,90.8 154.2,91.5 152.2,94.2 152.2,98.5 153.2,103.2 156.8,111.5 158.8,113.2 161.2,113.2 162.5,112.2 163.2,110.8 163.2,108.8 162.2,105.5 160.5,94.5 159.8,92.8 158.5,91.5 157.2,90.8ZM84.5,67.5 84.2,68.5 84.5,70.8 86.8,73.5 92.5,76.2 97.8,77.5 100.8,78.8 107.2,84.8 108.8,85.8 110.2,86.2 114.5,85.8 121.5,89.2 124.2,89.2 128.2,86.8 140.5,95.2 142.8,95.2 144.2,94.5 145.2,93.2 145.2,90.5 142.5,83.5 140.2,81.5 139.2,81.2 135.8,81.5 128.8,85.2 127.2,85.2 119.5,78.2 113.5,76.2 106.8,76.2 104.8,75.8 101.8,74.5 94.2,66.8 91.5,65.2 88.5,64.8 86.2,65.8ZM48.8,62.8 46.5,64.2 44.2,69.5 40.2,74.2 38.5,77.8 38.2,80.2 38.5,82.8 41.8,92.8 46.8,100.5 49.8,106.2 57.8,117.8 60.2,120.2 63.5,121.2 65.2,120.5 67.2,117.5 67.2,113.2 65.2,104.8 59.8,90.5 58.5,83.8 58.5,81.2 59.5,79.8 62.2,79.8 68.2,82.5 71.2,82.5 73.2,81.5 74.8,79.5 75.5,77.5 76.5,69.5 75.2,67.8 73.8,67.5 69.5,68.8 65.2,68.8 54.2,63.5 51.5,62.8ZM109.8,53.8 110.2,56.2 112.5,58.8 118.5,62.5 122.8,64.2 135.8,64.5 138.2,63.5 139.2,62.5 140.2,60.2 139.5,57.5 137.5,55.5 132.5,52.2 128.2,50.5 118.8,49.2 115.5,49.2 111.8,50.8ZM146.2,43.5 144.5,45.8 144.2,51.5 144.8,55.2 146.5,58.8 148.8,61.5 152.5,63.5 155.5,63.8 158.5,62.5 162.5,58.8 163.8,56.5 164.2,53.5 163.2,51.2 161.5,49.5 159.5,48.5 152.8,46.5 148.5,43.2ZM80.5,39.5 79.5,40.8 79.5,43.2 84.8,49.2 86.5,49.8 88.2,49.8 90.5,48.2 90.8,45.5 90.5,44.5 88.8,42.8 83.5,39.2ZM69.8,31.2 68.5,32.5 68.5,34.5 69.5,35.5 71.2,35.8 72.5,35.2 72.8,32.5 71.2,31.2ZM61.5,25.5 60.8,26.2 60.8,27.8 62.2,28.8 63.8,28.5 64.2,26.2 63.5,25.5Z"/>
<path fill="#3874ba" fill-rule="evenodd" d="M155.2,92.2 154.2,92.8 153.2,95.2 154.2,101.2 157.5,110.2 158.8,111.8 160.5,112.2 162.2,110.8 162.2,108.5 159.5,94.5 158.2,92.5ZM137.2,82.8 135.5,84.8 135.5,86.2 136.5,88.2 140.8,93.5 141.8,93.8 143.2,93.5 143.8,92.5 143.8,90.5 141.2,83.5 139.5,82.5ZM46.2,75.2 44.8,75.8 43.5,77.5 43.2,81.2 46.8,92.8 53.5,106.8 58.5,115.2 60.8,118.2 63.8,118.8 66.2,116.5 66.2,113.5 63.5,103.5 59.5,94.2 56.8,85.5 54.8,82.2 52.5,79.8 51.2,76.5 50.2,75.5 48.8,74.8ZM112.2,53.2 112.2,55.2 114.2,57.8 123.8,62.2 135.5,63.5 137.2,62.8 138.5,60.8 138.2,58.8 136.8,57.5 131.5,54.2 126.2,51.8 117.8,50.2 115.8,50.2 114.2,50.8ZM146.2,44.8 145.8,45.5 146.2,48.8 149.8,55.8 152.5,58.8 156.8,60.2 158.8,59.8 160.8,58.8 162.2,57.5 163.2,55.5 163.2,53.2 161.5,50.5 158.5,49.2 153.2,48.2 151.8,47.5 148.5,44.2 147.2,44.2ZM81.2,40.5 80.5,41.5 80.5,42.5 81.2,43.8 84.8,47.8 86.2,48.5 87.5,48.5 89.2,47.2 89.2,45.2 87.5,43.2 83.2,40.2ZM70.2,32.8 69.8,33.8 71.2,34.2 71.2,33.2Z"/>
<path fill="#2a4e93" fill-rule="evenodd" d="M155.5,93.2 154.5,94.2 154.2,95.5 155.2,100.5 158.8,109.8 160.2,110.8 160.8,110.5 161.2,108.8 159.2,96.5 157.8,93.5ZM138.5,83.8 137.5,84.8 137.5,85.8 139.2,88.8 141.5,90.8 141.8,89.2 140.8,85.5 139.8,84.2ZM49.5,83.2 48.2,84.8 47.8,86.5 48.2,88.5 54.8,105.8 61.2,116.5 62.2,117.2 64.2,117.2 65.2,115.8 65.2,113.5 62.8,104.5 55.5,85.8 54.5,84.2 52.2,82.8ZM113.5,53.2 113.5,55.2 114.8,56.8 122.8,60.5 126.5,61.5 131.8,62.2 135.8,62.2 136.8,61.5 137.2,60.5 136.2,58.8 130.5,55.2 126.2,53.2 117.8,51.2 115.8,51.2 114.5,51.8ZM151.5,50.5 151.2,51.2 151.5,52.8 153.2,55.8 154.8,57.5 157.2,58.5 158.8,58.5 160.5,57.8 161.8,56.5 162.5,55.2 162.5,53.2 161.2,51.2 157.8,49.8 153.2,49.8ZM147.5,45.8 147.8,47.5 148.8,47.5 148.8,46.2ZM82.5,41.5 82.2,42.8 85.5,46.8 87.5,47.2 87.8,45.2 84.2,42.2Z"/>
<path fill="#0f2a50" fill-rule="evenodd" d="M155.8,94.5 155.5,96.8 156.2,99.8 157.8,103.8 158.8,104.8 158.8,100.2 158.2,96.8 157.2,94.5ZM51.5,84.5 49.8,85.8 49.8,88.2 51.2,91.5 51.8,95.5 55.8,105.5 58.2,108.5 61.5,114.5 62.5,115.5 63.5,115.5 63.8,112.8 60.8,101.2 54.2,85.8 53.2,84.8ZM114.8,53.2 114.8,55.2 115.8,56.2 121.5,58.8 125.5,60.2 129.5,60.8 133.5,60.8 134.5,60.2 131.8,57.5 126.5,54.5 117.8,52.2 116.2,52.2ZM154.5,51.8 154.2,54.2 156.2,56.8 157.5,57.5 159.2,57.5 161.5,55.8 161.8,53.5 160.5,51.5 158.8,50.8 156.2,50.8Z"/>
<path fill="#0f2a50" fill-rule="evenodd" d="M51.8,86.5 51.5,88.2 52.2,89.5 52.2,93.2 54.8,100.8 56.8,105.5 60.8,109.2 61.2,108.8 60.8,103.2 56.2,92.2 54.2,89.5 52.8,86.5ZM116.5,53.8 117.2,55.2 122.2,57.8 126.5,59.2 129.8,58.8 129.8,58.2 128.8,57.2 125.8,55.5 119.8,53.8ZM156.2,52.2 155.5,53.8 156.5,55.8 157.5,56.5 159.5,56.5 160.8,55.5 161.2,53.5 160.2,52.2 158.5,51.5Z"/><polyline points="-0.5,62.0 7.5,62.4 26.5,61.0 29.5,65.0 31.5,68.0 37.5,71.0 40.5,75.0 40.5,77.0 42.5,79.0 44.5,80.4 48.5,80.0 52.5,78.4 53.5,80.0 53.9,85.0 55.5,92.0 57.5,98.0 60.5,106.0 63.5,112.0 66.5,118.0 68.5,124.0 69.5,130.0 71.5,133.0 73.5,134.4 75.5,133.0 78.5,130.0 80.5,129.0 81.5,125.0 83.5,123.0 83.9,116.0 83.9,104.0 84.5,101.0 89.5,99.0 93.5,95.0 98.5,90.0 103.5,86.0 108.5,83.0 112.5,80.0 114.5,77.0 119.5,76.0 121.5,75.0 125.5,74.0 128.5,72.4 132.5,73.0 134.5,76.0 136.5,80.0 139.5,85.0 141.5,89.0 143.5,94.0 144.5,99.0 147.5,101.0 151.5,99.0 155.5,95.0 157.5,96.0 159.5,101.0 160.2,106.8 162.0,115.8 162.0,123.0 161.1,128.4 160.2,132.9 162.0,132.0 164.7,134.7 166.5,139.2 168.3,144.6 170.1,150.0 172.8,153.6 175.5,157.2 179.1,159.9 182.7,161.7 185.4,160.8 185.4,158.1 183.6,153.6 180.9,148.2 178.2,143.7 173.7,140.1 169.2,135.6 165.5,128.4 166.5,122.0 168.3,112.2 171.9,111.3 172.8,114.0 177.3,115.8 180.0,118.5 182.7,123.0 186.3,124.8 189.0,127.5 189.9,130.2 193.5,128.4 198.9,124.8 204.3,121.2 207.0,115.8 207.0,106.8 203.7,103.7 200.7,99.2 197.0,95.5 193.2,91.7 191.7,88.7 192.5,85.0 195.5,81.2 200.0,78.2 204.5,76.7 209.0,78.2 210.5,79.0" fill="none" stroke="#111" stroke-width="0.75" stroke-linejoin="round"/>
<polyline points="82.5,126.0 84.5,128.0 88.5,131.0 91.5,136.0 90.5,141.0 85.5,142.4 83.1,138.0 82.5,132.0 82.5,126.0" fill="none" stroke="#111" stroke-width="0.75" stroke-linejoin="round"/>
<polyline points="148.5,144.6 152.1,144.6 157.5,147.3 161.1,151.8 163.8,157.2 165.6,162.6 166.5,168.0 162.0,168.0 161.1,164.4 158.4,159.0 154.8,153.6 150.3,148.2 148.5,144.6" fill="none" stroke="#111" stroke-width="0.75" stroke-linejoin="round"/>
<polyline points="204.5,86.5 206.7,84.2 209.7,85.0 210.5,88.0 209.7,91.0 206.7,91.0 204.5,89.0 204.5,86.5" fill="none" stroke="#111" stroke-width="0.75" stroke-linejoin="round"/>
<polyline points="207.0,160.8 205.5,164.0 206.5,168.0" fill="none" stroke="#111" stroke-width="0.75"/>
<polyline points="59.0,0.8 56.8,3.0 58.2,6.0 61.2,6.8 64.2,5.2 68.0,6.8 69.5,10.5 71.8,12.0 77.0,12.8 81.5,14.2 85.2,14.2 86.8,15.8 93.5,14.2 99.5,13.5 105.5,11.2 111.5,8.2 117.5,4.5 123.5,3.0 129.5,2.2 138.5,2.2 147.5,1.2 155.0,1.5 161.0,2.2 167.0,5.2 173.0,8.2 179.0,10.5 181.2,12.0 179.8,15.0 181.2,19.5 183.5,23.2 185.8,26.2 186.5,30.0 185.0,33.8 182.8,36.0 179.8,39.0 177.5,42.0 176.8,45.8 174.5,49.5 172.2,51.8 169.2,52.5 167.0,52.5 164.8,51.8 163.2,55.5 163.0,57.5 164.0,51.0 159.5,48.0 155.0,48.8 150.5,47.2 146.0,45.8 141.5,48.0 135.5,51.8 129.5,50.2 122.0,50.2 114.5,51.0 108.5,49.5 105.5,48.0 99.5,44.2 93.5,42.0 89.0,40.5 83.0,38.2 79.2,36.0 77.8,32.2 78.5,28.5 77.8,24.0 75.5,19.5 69.5,18.0 65.8,15.0 62.8,12.0 60.5,11.2 59.0,9.0 57.5,5.0 57.0,2.5 59.0,0.8" fill="none" stroke="#9b30a8" stroke-width="0.9" stroke-linejoin="round"/>
<rect x="42.0" y="50.3" width="125.8" height="75.3" fill="none" stroke="#d23a3a" stroke-width="0.9"/></svg><rect x="30.5" y="218.0" width="210.0" height="167.3" fill="none" stroke="#555" stroke-width="1"/><line x1="28.5" y1="218.0" x2="30.5" y2="218.0" stroke="#555" stroke-width="0.8"/><text x="26.0" y="221.8" font-size="10.7" text-anchor="end" font-weight="normal" fill="#222" >40°N</text><line x1="28.5" y1="259.8" x2="30.5" y2="259.8" stroke="#555" stroke-width="0.8"/><text x="26.0" y="263.6" font-size="10.7" text-anchor="end" font-weight="normal" fill="#222" >30°N</text><line x1="28.5" y1="301.6" x2="30.5" y2="301.6" stroke="#555" stroke-width="0.8"/><text x="26.0" y="305.4" font-size="10.7" text-anchor="end" font-weight="normal" fill="#222" >20°N</text><line x1="28.5" y1="343.5" x2="30.5" y2="343.5" stroke="#555" stroke-width="0.8"/><text x="26.0" y="347.3" font-size="10.7" text-anchor="end" font-weight="normal" fill="#222" >10°N</text><line x1="28.5" y1="385.3" x2="30.5" y2="385.3" stroke="#555" stroke-width="0.8"/><text x="26.0" y="389.1" font-size="10.7" text-anchor="end" font-weight="normal" fill="#222" >0°</text><line x1="72.5" y1="385.3" x2="72.5" y2="387.3" stroke="#555" stroke-width="0.8"/><text x="72.5" y="398.5" font-size="10.7" text-anchor="middle" font-weight="normal" fill="#222" >70°E</text><line x1="156.5" y1="385.3" x2="156.5" y2="387.3" stroke="#555" stroke-width="0.8"/><text x="156.5" y="398.5" font-size="10.7" text-anchor="middle" font-weight="normal" fill="#222" >90°E</text><line x1="240.5" y1="385.3" x2="240.5" y2="387.3" stroke="#555" stroke-width="0.8"/><text x="240.5" y="398.5" font-size="10.7" text-anchor="middle" font-weight="normal" fill="#222" >110°E</text><text x="135.5" y="214.2" font-size="12.2" text-anchor="middle" font-weight="normal" fill="#222" >JJA rainfall S.D.</text><text x="30.2" y="214.5" font-size="14" text-anchor="start" font-weight="bold" fill="#000" >b</text><rect x="250" y="141.20" width="7.8" height="10.40" fill="#f2fbef"/><rect x="250" y="131.10" width="7.8" height="10.40" fill="#dff5da"/><rect x="250" y="121.00" width="7.8" height="10.40" fill="#cbeec6"/><rect x="250" y="110.90" width="7.8" height="10.40" fill="#a8e1bf"/><rect x="250" y="100.80" width="7.8" height="10.40" fill="#80d2cb"/><rect x="250" y="90.70" width="7.8" height="10.40" fill="#5db7d0"/><rect x="250" y="80.60" width="7.8" height="10.40" fill="#4a97c8"/><rect x="250" y="70.50" width="7.8" height="10.40" fill="#3874ba"/><rect x="250" y="60.40" width="7.8" height="10.40" fill="#2a4e93"/><rect x="250" y="50.30" width="7.8" height="10.40" fill="#0f2a50"/><polygon points="250,50.3 253.9,44.8 257.8,50.3" fill="#0f2a50"/><polygon points="250,151.3 253.9,156.6 257.8,151.3" fill="#f7fdf5"/><polygon points="250,50.3 253.9,44.8 257.8,50.3 257.8,151.3 253.9,156.6 250,151.3" fill="none" stroke="#777" stroke-width="0.7"/><line x1="257.8" y1="151.3" x2="259.8" y2="151.3" stroke="#444" stroke-width="0.8"/><text x="262.3" y="155.1" font-size="10.5" text-anchor="start" font-weight="normal" fill="#222" >0</text><line x1="257.8" y1="131.1" x2="259.8" y2="131.1" stroke="#444" stroke-width="0.8"/><text x="262.3" y="134.9" font-size="10.5" text-anchor="start" font-weight="normal" fill="#222" >5</text><line x1="257.8" y1="110.9" x2="259.8" y2="110.9" stroke="#444" stroke-width="0.8"/><text x="262.3" y="114.7" font-size="10.5" text-anchor="start" font-weight="normal" fill="#222" >10</text><line x1="257.8" y1="90.7" x2="259.8" y2="90.7" stroke="#444" stroke-width="0.8"/><text x="262.3" y="94.5" font-size="10.5" text-anchor="start" font-weight="normal" fill="#222" >15</text><line x1="257.8" y1="70.5" x2="259.8" y2="70.5" stroke="#444" stroke-width="0.8"/><text x="262.3" y="74.3" font-size="10.5" text-anchor="start" font-weight="normal" fill="#222" >20</text><line x1="257.8" y1="50.3" x2="259.8" y2="50.3" stroke="#444" stroke-width="0.8"/><text x="262.3" y="54.1" font-size="10.5" text-anchor="start" font-weight="normal" fill="#222" >25</text><rect x="250" y="341.90" width="7.8" height="10.40" fill="#f2fbef"/><rect x="250" y="331.80" width="7.8" height="10.40" fill="#dff5da"/><rect x="250" y="321.70" width="7.8" height="10.40" fill="#cbeec6"/><rect x="250" y="311.60" width="7.8" height="10.40" fill="#a8e1bf"/><rect x="250" y="301.50" width="7.8" height="10.40" fill="#80d2cb"/><rect x="250" y="291.40" width="7.8" height="10.40" fill="#5db7d0"/><rect x="250" y="281.30" width="7.8" height="10.40" fill="#4a97c8"/><rect x="250" y="271.20" width="7.8" height="10.40" fill="#3874ba"/><rect x="250" y="261.10" width="7.8" height="10.40" fill="#2a4e93"/><rect x="250" y="251.00" width="7.8" height="10.40" fill="#0f2a50"/><polygon points="250,251.0 253.9,245.7 257.8,251.0" fill="#0f2a50"/><polygon points="250,352.0 253.9,357.6 257.8,352.0" fill="#f7fdf5"/><polygon points="250,251.0 253.9,245.7 257.8,251.0 257.8,352.0 253.9,357.6 250,352.0" fill="none" stroke="#777" stroke-width="0.7"/><line x1="257.8" y1="352.0" x2="259.8" y2="352.0" stroke="#444" stroke-width="0.8"/><text x="262.3" y="355.8" font-size="10.5" text-anchor="start" font-weight="normal" fill="#222" >0.0</text><line x1="257.8" y1="331.8" x2="259.8" y2="331.8" stroke="#444" stroke-width="0.8"/><text x="262.3" y="335.6" font-size="10.5" text-anchor="start" font-weight="normal" fill="#222" >0.8</text><line x1="257.8" y1="311.6" x2="259.8" y2="311.6" stroke="#444" stroke-width="0.8"/><text x="262.3" y="315.4" font-size="10.5" text-anchor="start" font-weight="normal" fill="#222" >1.6</text><line x1="257.8" y1="291.4" x2="259.8" y2="291.4" stroke="#444" stroke-width="0.8"/><text x="262.3" y="295.2" font-size="10.5" text-anchor="start" font-weight="normal" fill="#222" >2.4</text><line x1="257.8" y1="271.2" x2="259.8" y2="271.2" stroke="#444" stroke-width="0.8"/><text x="262.3" y="275.0" font-size="10.5" text-anchor="start" font-weight="normal" fill="#222" >3.2</text><line x1="257.8" y1="251.0" x2="259.8" y2="251.0" stroke="#444" stroke-width="0.8"/><text x="262.3" y="254.8" font-size="10.5" text-anchor="start" font-weight="normal" fill="#222" >4.0</text><rect x="650" y="146.14" width="7.8" height="5.36" fill="#5e0d27"/><rect x="650" y="141.08" width="7.8" height="5.36" fill="#8a1834"/><rect x="650" y="136.02" width="7.8" height="5.36" fill="#a82632"/><rect x="650" y="130.96" width="7.8" height="5.36" fill="#c0432f"/><rect x="650" y="125.90" width="7.8" height="5.36" fill="#cc5b3f"/><rect x="650" y="120.84" width="7.8" height="5.36" fill="#d67c62"/><rect x="650" y="115.78" width="7.8" height="5.36" fill="#d99a86"/><rect x="650" y="110.72" width="7.8" height="5.36" fill="#ddb3a5"/><rect x="650" y="105.66" width="7.8" height="5.36" fill="#e8d8d2"/><rect x="650" y="100.60" width="7.8" height="5.36" fill="#ffffff"/><rect x="650" y="95.54" width="7.8" height="5.36" fill="#ffffff"/><rect x="650" y="90.48" width="7.8" height="5.36" fill="#a8cdd6"/><rect x="650" y="85.42" width="7.8" height="5.36" fill="#80b4c2"/><rect x="650" y="80.36" width="7.8" height="5.36" fill="#5ea0bf"/><rect x="650" y="75.30" width="7.8" height="5.36" fill="#4a90c0"/><rect x="650" y="70.24" width="7.8" height="5.36" fill="#3f80c4"/><rect x="650" y="65.18" width="7.8" height="5.36" fill="#3a5dc8"/><rect x="650" y="60.12" width="7.8" height="5.36" fill="#2f3f9f"/><rect x="650" y="55.06" width="7.8" height="5.36" fill="#262f7a"/><rect x="650" y="50.00" width="7.8" height="5.36" fill="#151a4a"/><polygon points="650,50.0 653.9,44.5 657.8,50.0" fill="#151a4a"/><polygon points="650,151.2 653.9,156.9 657.8,151.2" fill="#5e0d27"/><polygon points="650,50.0 653.9,44.5 657.8,50.0 657.8,151.2 653.9,156.9 650,151.2" fill="none" stroke="#777" stroke-width="0.7"/><line x1="657.8" y1="55.1" x2="659.8" y2="55.1" stroke="#444" stroke-width="0.8"/><text x="662.3" y="58.9" font-size="10.5" text-anchor="start" font-weight="normal" fill="#222" >0.9</text><line x1="657.8" y1="70.2" x2="659.8" y2="70.2" stroke="#444" stroke-width="0.8"/><text x="662.3" y="74.0" font-size="10.5" text-anchor="start" font-weight="normal" fill="#222" >0.6</text><line x1="657.8" y1="85.4" x2="659.8" y2="85.4" stroke="#444" stroke-width="0.8"/><text x="662.3" y="89.2" font-size="10.5" text-anchor="start" font-weight="normal" fill="#222" >0.3</text><line x1="657.8" y1="100.6" x2="659.8" y2="100.6" stroke="#444" stroke-width="0.8"/><text x="662.3" y="104.4" font-size="10.5" text-anchor="start" font-weight="normal" fill="#222" >0.0</text><line x1="657.8" y1="115.8" x2="659.8" y2="115.8" stroke="#444" stroke-width="0.8"/><text x="662.3" y="119.6" font-size="10.5" text-anchor="start" font-weight="normal" fill="#222" >−0.3</text><line x1="657.8" y1="131.0" x2="659.8" y2="131.0" stroke="#444" stroke-width="0.8"/><text x="662.3" y="134.8" font-size="10.5" text-anchor="start" font-weight="normal" fill="#222" >−0.6</text><line x1="657.8" y1="146.1" x2="659.8" y2="146.1" stroke="#444" stroke-width="0.8"/><text x="662.3" y="149.9" font-size="10.5" text-anchor="start" font-weight="normal" fill="#222" >−0.9</text><svg x="304.5" y="13.5" width="336.29999999999995" height="167.3" viewBox="0 0 336.3 167.3" preserveAspectRatio="none" overflow="hidden"><g transform="translate(-304.5,-13.5)">
<rect x="304.5" y="13.5" width="340" height="170" fill="#fff"/>
<polygon points="329.8,182.0 330.9,164.6 333.0,151.5 335.2,138.5 336.3,123.3 337.4,114.6 340.0,112.5 345.0,105.0 355.0,95.0 367.5,86.3 380.0,78.8 392.5,70.0 400.0,62.5 412.5,57.5 425.0,50.0 427.5,40.0 435.0,32.5 441.3,32.0 447.5,37.5 450.0,41.3 447.5,47.5 445.0,55.0 442.5,70.0 440.0,80.0 430.0,87.5 420.0,95.0 410.0,100.0 405.0,105.0 410.0,115.0 412.0,127.0 400.0,120.0 390.0,122.0 380.0,125.0 370.0,132.0 362.0,140.0 358.0,150.0 356.0,165.0 358.0,182.0" fill="#a8cdd6"/>
<polygon points="333.5,182.0 334.0,165.0 336.0,152.0 338.0,139.0 339.0,124.0 340.0,116.0 344.0,110.0 352.0,100.0 362.0,92.0 375.0,84.0 387.0,76.0 397.0,67.0 405.0,60.0 416.0,55.0 426.0,48.0 431.0,38.0 437.0,35.0 444.0,39.0 446.0,46.0 443.0,55.0 440.0,68.0 437.0,77.0 428.0,84.0 417.0,91.0 407.0,96.0 400.0,101.0 398.0,110.0 390.0,116.0 380.0,119.0 370.0,124.0 362.0,131.0 356.0,140.0 353.0,152.0 351.0,165.0 352.0,182.0" fill="#80b4c2"/>
<polygon points="336.0,172.0 337.4,160.2 338.5,151.5 340.7,138.5 341.7,124.0 342.5,115.0 355.0,100.0 370.0,90.0 385.0,80.0 397.5,70.0 405.0,62.5 417.5,56.3 425.0,52.5 430.0,45.0 435.0,37.5 440.0,37.5 442.5,45.0 440.0,55.0 437.5,67.5 432.5,80.0 422.5,87.5 412.5,92.5 400.0,97.5 387.5,105.0 380.0,112.0 374.3,118.0 367.8,124.0 361.3,130.0 355.9,135.0 350.4,145.0 346.0,155.9 343.0,163.0 342.0,170.0" fill="#5ea0bf"/>
<polygon points="342.0,154.0 343.0,140.0 344.0,124.0 345.0,113.0 356.0,99.0 371.0,89.0 386.0,79.0 398.0,68.0 408.0,61.5 419.0,55.0 426.0,51.0 432.0,47.0 436.0,46.0 436.0,56.0 433.0,67.0 428.0,78.0 419.0,85.0 408.0,90.0 396.0,97.0 384.0,108.0 372.0,118.0 362.0,126.0 352.0,134.0 348.0,146.0 345.0,152.0 343.0,158.0" fill="#4a90c0"/>
<polygon points="344.0,135.0 345.0,120.0 347.5,110.0 357.5,97.5 372.5,87.5 387.5,77.5 400.0,65.0 412.5,60.0 422.5,53.8 427.5,55.0 430.0,62.5 425.0,75.0 415.0,82.5 402.5,90.0 390.0,100.0 380.0,112.0 365.0,122.0 355.0,128.0 348.0,134.0 345.0,140.0" fill="#3f80c4"/>
<polygon points="348.0,114.0 350.0,110.0 352.5,105.0 362.5,95.0 377.5,85.0 390.0,76.3 400.0,67.0 410.0,61.0 420.0,56.0 425.0,58.0 425.0,65.0 412.5,80.0 395.0,95.0 380.0,108.0 365.0,118.0 352.0,121.0" fill="#3a5dc8"/>
<polygon points="354.0,106.0 357.5,100.0 367.5,92.5 380.0,85.0 390.0,80.0 400.0,72.5 407.5,65.0 415.0,60.0 418.8,62.5 415.0,72.5 405.0,82.5 392.5,90.0 380.0,97.5 367.5,105.0 357.5,107.5" fill="#2f3f9f"/>
<polygon points="360.0,102.5 370.0,95.0 380.0,90.0 392.5,83.8 402.5,77.5 410.0,68.8 415.0,65.0 412.5,71.3 405.0,80.0 392.5,87.5 380.0,95.0 367.5,102.5 361.3,106.3" fill="#262f7a"/>
<polygon points="358.0,102.0 365.0,97.0 374.0,95.5 378.0,98.5 371.0,104.0 363.0,106.5" fill="#151a4a"/>
<polygon points="405.0,68.0 410.0,67.5 412.5,70.0 408.0,72.5 404.0,71.0" fill="#151a4a"/>
<polygon points="395.0,80.0 400.0,77.5 405.0,78.5 401.0,82.0 396.0,82.5" fill="#151a4a"/>
<polygon points="380.0,92.0 386.0,89.0 387.0,90.5 381.0,93.5" fill="#151a4a"/>
<polygon points="348.0,182.0 348.5,165.0 349.5,156.0 351.0,150.0 354.0,146.0 357.0,139.0 361.0,133.0 367.0,129.0 375.0,125.0 383.0,121.0 390.0,118.0 396.0,115.5 400.0,116.0 402.0,125.0 380.0,135.0 365.0,145.0 360.0,160.0 360.0,182.0" fill="#fff"/>
<polygon points="436.0,84.0 444.0,82.0 450.0,84.0 456.0,83.0 458.0,92.0 454.0,102.0 452.0,112.0 446.0,114.0 440.0,108.0 436.0,96.0" fill="#e8d8d2"/>
<polygon points="446.0,86.0 452.0,85.0 456.0,92.0 452.0,99.0 447.0,96.0" fill="#ddb3a5"/>
<polygon points="419.0,112.0 425.0,110.0 430.0,113.0 436.0,111.0 441.0,114.0 440.0,119.0 434.0,121.0 428.0,124.0 422.0,125.0 418.0,119.0" fill="#a8cdd6"/>
<polygon points="453.3,58.6 456.3,49.4 462.5,45.3 466.6,40.2 470.7,41.2 472.7,46.3 480.9,48.4 491.1,50.4 499.3,51.5 509.5,54.5 521.7,60.7 534.0,65.8 542.2,67.8 550.4,70.9 558.5,75.0 564.7,79.0 562.6,81.1 554.5,81.1 542.2,82.1 532.0,84.2 523.8,86.2 517.7,83.1 507.4,81.1 497.2,78.0 487.0,75.0 476.8,77.0 470.7,72.9 462.5,67.8 456.3,63.7" fill="#e8d8d2"/>
<polygon points="461.5,50.4 470.7,47.4 480.9,49.4 493.1,52.5 501.3,55.5 513.6,58.6 527.9,63.7 542.2,69.9 552.4,75.0 546.3,78.0 534.0,78.0 521.7,76.0 509.5,72.9 497.2,70.9 487.0,69.9 476.8,65.8 466.6,60.7 460.4,56.6" fill="#ddb3a5"/>
<polygon points="472.7,50.4 485.0,49.4 497.2,54.5 509.5,58.6 521.7,62.7 529.9,66.8 529.9,75.0 521.7,73.9 509.5,69.9 495.2,66.8 485.0,62.7 474.7,57.6" fill="#d99a86"/>
<polygon points="499.3,60.7 506.0,59.8 513.6,62.0 512.0,66.8 505.0,66.0 499.3,64.5" fill="#d67c62"/>
<polygon points="440.0,77.0 448.0,78.0 452.0,84.0 450.0,91.0 443.0,90.0 440.0,84.0" fill="#e8d8d2"/>
<polygon points="458.0,84.0 466.0,83.0 472.0,86.0 478.0,84.0 486.0,85.0 494.0,88.0 492.0,94.0 484.0,93.0 476.0,95.0 468.0,93.0 460.0,92.0" fill="#e8d8d2"/>
<polygon points="464.0,86.0 468.0,85.0 470.0,92.0 465.0,92.0" fill="#ddb3a5"/>
<polygon points="513.6,89.0 520.0,88.0 524.0,93.0 522.0,99.0 516.0,99.0 513.0,94.0" fill="#a8cdd6"/>
<polygon points="536.0,92.0 546.0,89.0 556.0,91.0 563.0,96.0 562.0,104.0 556.0,110.0 546.0,110.0 538.0,106.0 535.0,99.0" fill="#a8cdd6"/>
<polygon points="541.0,97.0 550.0,95.0 557.0,99.0 556.0,106.0 548.0,108.0 541.0,104.0" fill="#80b4c2"/>
<polygon points="542.0,102.0 548.0,100.0 552.0,104.0 548.0,108.0 543.0,107.0" fill="#4a90c0"/>
<polygon points="596.0,95.0 602.0,96.5 608.0,102.0 614.0,108.0 618.0,113.0 615.0,114.5 608.0,110.0 601.0,104.0 597.0,100.0" fill="#e8d8d2"/>
<polygon points="625.0,124.5 630.0,126.0 632.0,133.7 628.0,133.0" fill="#e8d8d2"/>
<polygon points="560.0,118.0 572.0,112.0 586.0,108.4 595.2,113.0 604.4,115.3 613.6,117.6 620.5,122.2 625.0,129.0 629.7,136.0 636.6,145.2 642.0,152.0 642.0,182.0 602.0,182.0 604.4,170.5 606.7,159.0 606.7,147.5 604.4,140.6 600.0,135.0 600.0,182.0 560.0,182.0 552.4,172.4 542.4,162.4 540.0,152.4 542.4,137.4 552.4,132.4 558.0,125.0" fill="#a8cdd6"/>
<polygon points="540.8,137.0 548.0,133.4 557.0,128.0 565.0,121.0 575.0,116.0 586.0,113.0 598.0,115.0 600.0,122.0 592.0,126.0 584.0,127.0 584.0,140.0 594.7,144.2 587.6,149.6 580.4,153.0 576.8,160.4 578.6,169.4 576.8,182.0 560.0,182.0 556.0,178.0 550.0,170.0 544.0,162.0 542.0,152.0 543.0,140.0" fill="#80b4c2"/>
<polygon points="544.0,141.0 549.0,138.0 555.0,140.0 562.0,141.0 569.0,142.0 576.0,146.0 578.0,150.0 574.0,156.0 574.0,165.0 577.0,172.0 576.0,182.0 561.0,182.0 556.0,176.0 550.0,169.0 546.0,162.0 544.0,154.0" fill="#5ea0bf"/>
<polygon points="557.0,146.0 562.0,145.0 566.0,149.0 565.0,155.0 559.0,155.0" fill="#4a90c0"/>
<polygon points="562.0,170.0 570.0,168.0 577.0,172.0 576.8,182.0 563.0,182.0" fill="#4a90c0"/>
<polygon points="578.0,113.0 584.0,112.0 588.0,115.0 585.0,119.0 579.0,118.0" fill="#3f80c4"/>
<polygon points="568.0,121.0 576.0,118.0 580.0,121.0 574.0,125.0 568.0,125.0" fill="#5ea0bf"/>
<polygon points="609.0,133.7 615.9,136.0 622.8,142.9 627.4,149.8 634.3,159.0 636.6,170.5 632.0,175.0 620.5,172.8 613.6,165.9 611.3,154.4 609.0,142.9" fill="#80b4c2"/>
<polygon points="612.0,140.0 618.0,141.0 624.0,148.0 630.0,158.0 632.0,168.0 626.0,172.0 618.0,168.0 614.0,158.0 612.0,148.0" fill="#5ea0bf"/>
<polygon points="617.0,145.0 622.0,148.0 627.0,156.0 628.0,165.0 623.0,166.0 618.0,160.0 616.0,152.0" fill="#4a90c0"/>
<polygon points="552.0,138.0 558.0,136.5 565.0,137.5 567.0,141.0 562.0,144.5 555.0,145.5 551.0,142.0" fill="#ffffff"/>
<polygon points="578.6,136.0 582.0,135.0 584.0,138.0 582.0,140.6 579.0,140.0" fill="#ffffff"/>
<polygon points="546.0,151.0 550.0,149.6 553.4,153.0 552.5,159.0 548.0,160.4 545.5,156.0" fill="#ffffff"/>
<polygon points="563.0,153.0 568.0,151.4 574.0,153.0 575.0,158.0 570.0,160.4 564.0,159.0" fill="#ffffff"/>
<polygon points="584.0,127.0 592.0,126.0 600.0,128.0 600.0,144.0 594.7,144.2 584.0,140.0" fill="#ffffff"/>
<polygon points="580.4,153.0 587.6,149.6 594.7,144.2 600.0,143.0 600.0,182.0 576.8,182.0 578.6,169.4 576.8,160.4" fill="#ffffff"/>
<polygon points="549.0,154.0 551.0,154.0 551.0,156.0 549.0,156.0" fill="#e8d8d2"/>
<polygon points="568.0,155.0 570.5,155.0 570.5,157.0 568.0,157.0" fill="#e8d8d2"/>
<polygon points="586.0,152.0 594.0,152.0 597.5,160.0 596.0,170.5 589.0,170.0 587.0,162.0" fill="#e8d8d2"/>
<circle cx="476.5" cy="182.5" r="57.4" fill="none" stroke="#c8c8c8" stroke-width="0.6"/>
<circle cx="476.5" cy="182.5" r="105.3" fill="none" stroke="#c8c8c8" stroke-width="0.6"/>
<circle cx="476.5" cy="182.5" r="149.0" fill="none" stroke="#c8c8c8" stroke-width="0.6"/>
<circle cx="476.5" cy="182.5" r="192.0" fill="none" stroke="#c8c8c8" stroke-width="0.6"/>
<line x1="476.5" y1="182.5" x2="209.9" y2="-115.7" stroke="#c8c8c8" stroke-width="0.6"/>
<line x1="476.5" y1="182.5" x2="523.2" y2="-214.8" stroke="#c8c8c8" stroke-width="0.6"/>
<line x1="476.5" y1="182.5" x2="808.9" y2="-40.0" stroke="#c8c8c8" stroke-width="0.6"/>
<line x1="476.5" y1="182.5" x2="76.5" y2="182.5" stroke="#c8c8c8" stroke-width="0.6"/>
<line x1="476.5" y1="182.5" x2="870.4" y2="252.0" stroke="#c8c8c8" stroke-width="0.6"/>
<polygon points="356.1,183.0 354.9,169.4 353.6,159.5 352.4,154.6 356.1,153.3 359.8,144.6 362.3,138.4 368.5,134.7 372.2,129.7 376.0,126.0 383.4,122.3 388.4,119.8 393.3,118.6 398.3,116.8 402.0,118.6 404.5,123.5 407.0,128.5 409.5,132.2 413.2,137.2 416.9,139.7 420.6,139.7 423.1,142.1 424.3,145.9 428.1,149.6 435.5,152.1 443.0,154.0 447.9,154.6 450.4,150.8 452.9,149.6 457.8,147.1 462.8,148.4 466.5,147.1 465.3,142.1 462.8,139.7 460.3,132.2 456.6,127.3 452.9,123.5 447.9,122.3 452.9,119.8 457.8,114.9 462.8,109.9 467.8,102.4 474.0,97.5 477.5,96.2 480.0,96.4 483.5,92.9 487.9,93.8 493.1,95.5 497.5,100.8 506.3,106.0 512.4,99.0 515.0,98.1 520.3,102.5 526.4,104.3 529.0,108.7 532.6,111.3 534.3,115.7 539.6,118.3 544.8,120.0 550.1,117.4 553.6,114.8 557.1,112.2 562.3,109.5 567.6,107.8 572.9,107.4 578.1,108.7 583.4,110.4 586.9,112.7 585.1,113.9 579.9,113.4 572.9,113.9 565.8,116.5 560.6,119.2 553.6,125.3 548.3,130.5 541.3,132.7 532.6,132.3 525.5,128.8 522.0,127.9 520.3,132.3 515.0,134.1 513.3,141.1 514.2,144.9 513.7,152.4 511.2,158.7 519.9,160.0 527.4,163.7 533.7,167.4 539.9,168.6 544.9,172.4 549.9,177.4 552.4,183.0" fill="#d3d3d3" stroke="#111" stroke-width="0.75" stroke-linejoin="round"/>
<polygon points="522.0,152.0 528.0,150.0 535.0,151.0 537.0,155.0 533.0,159.0 525.0,160.0 521.0,157.0" fill="#d3d3d3" stroke="#111" stroke-width="0.7" stroke-linejoin="round"/>
<polygon points="517.0,146.0 521.0,145.0 524.0,148.0 520.0,150.0 516.0,149.0" fill="#d3d3d3" stroke="#111" stroke-width="0.7" stroke-linejoin="round"/>
<polygon points="541.3,115.7 543.0,112.2 547.4,109.5 551.8,107.8 555.3,108.7 554.5,111.3 551.8,114.8 548.3,117.4 543.9,119.2 541.3,118.3" fill="#d3d3d3" stroke="#111" stroke-width="0.7" stroke-linejoin="round"/>
<polygon points="442.0,122.0 445.0,121.5 447.0,124.0 445.0,125.5 442.0,125.0" fill="#d3d3d3" stroke="#111" stroke-width="0.7" stroke-linejoin="round"/>
<polygon points="510.0,93.0 514.0,92.0 517.7,95.0 516.0,98.0 511.0,97.0" fill="#d3d3d3" stroke="#111" stroke-width="0.7" stroke-linejoin="round"/>
<polygon points="624.0,81.0 627.0,82.0 629.0,85.0 628.0,87.0 626.0,85.0 624.0,83.0" fill="#d3d3d3" stroke="#111" stroke-width="0.7" stroke-linejoin="round"/>
<polygon points="306.0,17.0 309.0,16.0 312.0,17.0 313.0,20.0 312.0,22.0 311.0,23.0 312.0,25.0 313.0,29.0 314.0,33.0 315.0,34.0 316.0,37.0 317.0,41.0 318.0,47.0 317.0,50.0 314.0,53.0 311.0,55.0 309.0,51.0 308.0,45.0 307.0,37.0 306.0,29.0 305.0,24.0 307.0,23.0 308.0,21.0 306.0,19.0" fill="#d3d3d3" stroke="#111" stroke-width="0.7" stroke-linejoin="round"/>
<polygon points="643.0,21.0 634.0,26.0 631.0,28.0 629.0,29.0 630.0,31.0 627.0,32.0 626.0,34.0 621.0,35.0 617.0,37.0 616.0,39.0 613.0,41.0 608.0,44.0 604.0,48.0 601.0,53.0 599.0,59.0 599.0,65.0 600.0,71.0 603.0,75.0 606.0,78.0 608.0,79.0 609.0,75.0 610.0,71.0 611.0,67.0 613.0,65.0 618.0,63.0 623.0,61.0 629.0,60.0 632.0,58.0 633.0,54.0 636.0,52.0 640.0,52.0 643.0,53.0" fill="#d3d3d3" stroke="#111" stroke-width="0.7" stroke-linejoin="round"/>
<polyline points="599.0,56.0 600.0,62.0 602.0,66.0 607.0,66.0 612.0,66.0" fill="none" stroke="#111" stroke-width="0.6"/>
</g></svg><rect x="304.5" y="13.5" width="336.29999999999995" height="167.3" fill="none" stroke="#555" stroke-width="1"/><text x="472.6" y="10.0" font-size="12.2" text-anchor="middle" font-weight="normal" fill="#222" >JJA SIC EOF2 (var=15%)</text><text x="303.9" y="10.3" font-size="14" text-anchor="start" font-weight="bold" fill="#000" >c</text><text x="328.0" y="194.3" font-size="11" text-anchor="middle" font-weight="normal" fill="#222" >60°S</text><text x="372.4" y="194.3" font-size="11" text-anchor="middle" font-weight="normal" fill="#222" >70°S</text><text x="419.8" y="194.3" font-size="12.2" text-anchor="middle" font-weight="normal" fill="#222" >80°S</text><text x="476.0" y="194.3" font-size="11" text-anchor="middle" font-weight="normal" fill="#222" >90°S</text><text x="534.6" y="194.3" font-size="11" text-anchor="middle" font-weight="normal" fill="#222" >80°S</text><text x="583.0" y="194.3" font-size="11" text-anchor="middle" font-weight="normal" fill="#222" >70°S</text><text x="625.0" y="194.3" font-size="11" text-anchor="middle" font-weight="normal" fill="#222" >60°S</text><text x="302.6" y="102.2" font-size="11" text-anchor="end" font-weight="normal" fill="#222" >50°S</text><rect x="304.3" y="218.3" width="337.2" height="167.0" fill="none" stroke="#555" stroke-width="1"/><line x1="304.3" y1="306.90" x2="641.5" y2="306.90" stroke="#999" stroke-width="0.8" stroke-dasharray="1.6,1.6"/><polyline points="311.10,357.34 318.28,269.20 325.47,326.66 332.65,302.74 339.83,285.84 347.01,318.86 354.20,327.96 361.38,354.22 368.56,345.38 375.74,278.30 382.93,298.32 390.11,297.80 397.29,276.48 404.47,327.70 411.66,322.50 418.84,262.96 426.02,314.96 433.20,307.94 440.38,300.92 447.57,300.92 454.75,336.80 461.93,314.44 469.12,315.48 476.30,344.60 483.48,283.50 490.66,309.76 497.85,318.60 505.03,311.06 512.21,260.88 519.39,285.06 526.58,321.20 533.76,277.78 540.94,258.80 548.12,320.16 555.31,283.24 562.49,326.40 569.67,327.18 576.85,307.94 584.04,297.02 591.22,293.38 598.40,289.22 605.58,284.02 612.77,340.96 619.95,328.74 627.13,354.22 634.31,261.66" fill="none" stroke="#d4545e" stroke-width="1.5" stroke-linejoin="round"/><polyline points="311.10,323.54 318.28,315.74 325.47,332.38 332.65,325.10 339.83,313.92 347.01,291.56 354.20,346.94 361.38,376.06 368.56,330.82 375.74,285.06 382.93,346.42 390.11,349.80 397.29,290.78 404.47,292.08 411.66,348.76 418.84,284.80 426.02,297.80 433.20,297.02 440.38,303.00 447.57,279.60 454.75,309.76 461.93,312.36 469.12,286.88 476.30,320.42 483.48,287.66 490.66,321.98 497.85,291.30 505.03,309.76 512.21,262.18 519.39,292.34 526.58,286.62 533.76,297.28 540.94,294.16 548.12,293.38 555.31,281.42 562.49,290.52 569.67,300.66 576.85,279.60 584.04,347.20 591.22,293.90 598.40,297.54 605.58,285.58 612.77,299.88 619.95,283.50 627.13,374.50 634.31,282.72" fill="none" stroke="#3d86c6" stroke-width="1.5" stroke-linejoin="round"/><line x1="302.3" y1="228.9" x2="304.3" y2="228.9" stroke="#555" stroke-width="0.8"/><text x="299.8" y="232.7" font-size="10.7" text-anchor="end" font-weight="normal" fill="#222" >3</text><line x1="302.3" y1="254.9" x2="304.3" y2="254.9" stroke="#555" stroke-width="0.8"/><text x="299.8" y="258.7" font-size="10.7" text-anchor="end" font-weight="normal" fill="#222" >2</text><line x1="302.3" y1="280.9" x2="304.3" y2="280.9" stroke="#555" stroke-width="0.8"/><text x="299.8" y="284.7" font-size="10.7" text-anchor="end" font-weight="normal" fill="#222" >1</text><line x1="302.3" y1="306.9" x2="304.3" y2="306.9" stroke="#555" stroke-width="0.8"/><text x="299.8" y="310.7" font-size="10.7" text-anchor="end" font-weight="normal" fill="#222" >0</text><line x1="302.3" y1="332.9" x2="304.3" y2="332.9" stroke="#555" stroke-width="0.8"/><text x="299.8" y="336.7" font-size="10.7" text-anchor="end" font-weight="normal" fill="#222" >−1</text><line x1="302.3" y1="358.9" x2="304.3" y2="358.9" stroke="#555" stroke-width="0.8"/><text x="299.8" y="362.7" font-size="10.7" text-anchor="end" font-weight="normal" fill="#222" >−2</text><line x1="302.3" y1="384.9" x2="304.3" y2="384.9" stroke="#555" stroke-width="0.8"/><text x="299.8" y="388.7" font-size="10.7" text-anchor="end" font-weight="normal" fill="#222" >−3</text><line x1="318.3" y1="385.3" x2="318.3" y2="387.3" stroke="#555" stroke-width="0.8"/><text x="318.3" y="398.5" font-size="10.7" text-anchor="middle" font-weight="normal" fill="#222" >1980</text><line x1="390.1" y1="385.3" x2="390.1" y2="387.3" stroke="#555" stroke-width="0.8"/><text x="390.1" y="398.5" font-size="10.7" text-anchor="middle" font-weight="normal" fill="#222" >1990</text><line x1="461.9" y1="385.3" x2="461.9" y2="387.3" stroke="#555" stroke-width="0.8"/><text x="461.9" y="398.5" font-size="10.7" text-anchor="middle" font-weight="normal" fill="#222" >2000</text><line x1="533.8" y1="385.3" x2="533.8" y2="387.3" stroke="#555" stroke-width="0.8"/><text x="533.8" y="398.5" font-size="10.7" text-anchor="middle" font-weight="normal" fill="#222" >2010</text><line x1="605.6" y1="385.3" x2="605.6" y2="387.3" stroke="#555" stroke-width="0.8"/><text x="605.6" y="398.5" font-size="10.7" text-anchor="middle" font-weight="normal" fill="#222" >2020</text><text x="472.9" y="214.5" font-size="12.2" text-anchor="middle" font-weight="normal" fill="#222" >JJA rainfall &amp; SIC-PC2</text><text x="304.0" y="214.7" font-size="14" text-anchor="start" font-weight="bold" fill="#000" >d</text><line x1="313.5" y1="232.3" x2="327.5" y2="232.3" stroke="#d4545e" stroke-width="1.5"/><text x="330.6" y="236.2" font-size="11.2" text-anchor="start" font-weight="normal" fill="#222" >ERA5-rainfall</text><line x1="412.6" y1="232.3" x2="426.5" y2="232.3" stroke="#3d86c6" stroke-width="1.5"/><text x="429.4" y="236.2" font-size="11.2" text-anchor="start" font-weight="normal" fill="#222" >SIC-PC2</text><text x="390.6" y="372.6" font-size="11.15" text-anchor="start" font-weight="normal" fill="#222" >r(ERA5-rainfall&amp;PC2)=0.50 (P&lt;0.01)</text>
</svg>
</body></html>
